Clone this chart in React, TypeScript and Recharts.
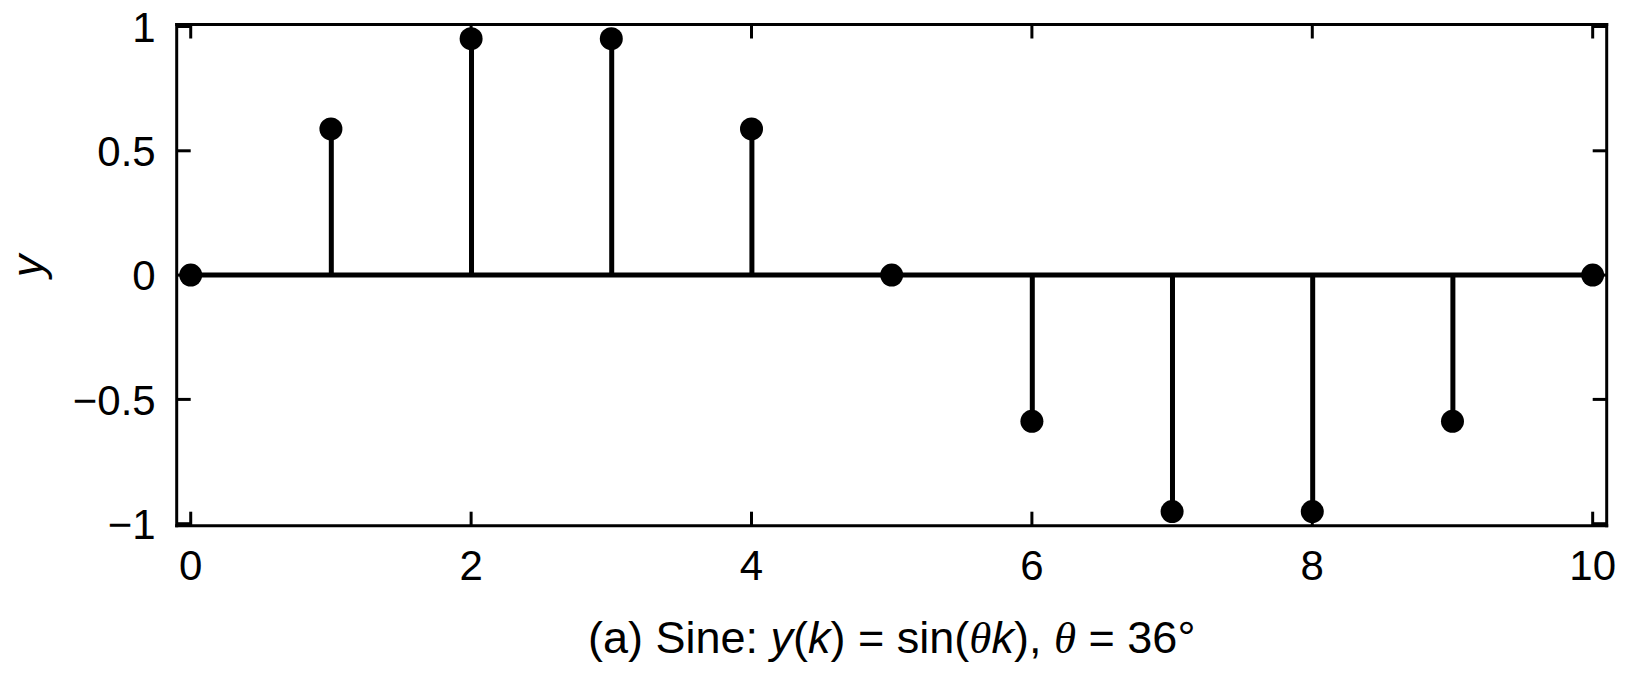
import React from 'react';
import { ComposedChart, XAxis, YAxis, Bar, Scatter, ReferenceLine, Label } from 'recharts';

const kValues = [0, 1, 2, 3, 4, 5, 6, 7, 8, 9, 10];
const yValues = [0, 0.588, 0.951, 0.951, 0.588, 0, -0.588, -0.951, -0.951, -0.588, 0];
const xTicks = [0, 2, 4, 6, 8, 10];
const yTicks = [-1, -0.5, 0, 0.5, 1];

const data = kValues.map((k, i) => ({ k, y: yValues[i] }));

const FONT = '"Liberation Sans", Arial, Helvetica, sans-serif';
const SERIF = '"Liberation Serif", "Times New Roman", serif';
const TICK_LEN = 14;
const fmt = (v: number) => (v < 0 ? '\u2212' + String(Math.abs(v)) : String(v));

const BottomTick = (props: any) => {
  const { x, y, payload } = props;
  return (
    <g>
      <line x1={x} y1={y} x2={x} y2={y - TICK_LEN} stroke="#000" strokeWidth={3} />
      <text x={x} y={y + 54} textAnchor="middle" fontSize={42} fontFamily={FONT} fill="#000">
        {fmt(payload.value)}
      </text>
    </g>
  );
};

const TopTick = (props: any) => {
  const { x, y } = props;
  return <line x1={x} y1={y} x2={x} y2={y + TICK_LEN} stroke="#000" strokeWidth={3} />;
};

const LeftTick = (props: any) => {
  const { x, y, payload } = props;
  return (
    <g>
      <line x1={x} y1={y} x2={x + TICK_LEN} y2={y} stroke="#000" strokeWidth={3} />
      <text x={x - 21} y={y} dy="0.36em" textAnchor="end" fontSize={42} fontFamily={FONT} fill="#000">
        {fmt(payload.value)}
      </text>
    </g>
  );
};

const RightTick = (props: any) => {
  const { x, y } = props;
  return <line x1={x} y1={y} x2={x - TICK_LEN} y2={y} stroke="#000" strokeWidth={3} />;
};

const Title = (props: any) => {
  const vb = props.viewBox || { x: 0, y: 0, width: 0 };
  const cx = vb.x + vb.width / 2;
  const cy = vb.y + 127;
  return (
    <text x={cx} y={cy} textAnchor="middle" fontSize={45} fontFamily={FONT} fill="#000">
      <tspan>(a) Sine: </tspan>
      <tspan fontStyle="italic">y</tspan>
      <tspan>(</tspan>
      <tspan fontStyle="italic">k</tspan>
      <tspan>) = sin(</tspan>
      <tspan fontStyle="italic" fontFamily={SERIF}>θ</tspan>
      <tspan fontStyle="italic">k</tspan>
      <tspan>), </tspan>
      <tspan fontStyle="italic" fontFamily={SERIF}>θ</tspan>
      <tspan> = 36°</tspan>
    </text>
  );
};

const YTitle = (props: any) => {
  const vb = props.viewBox || { x: 0, y: 0, height: 0 };
  const cx = 43;
  const cy = vb.y + vb.height / 2 - 9;
  return (
    <text
      x={cx}
      y={cy}
      transform={`rotate(-90 ${cx} ${cy})`}
      textAnchor="middle"
      fontSize={45}
      fontStyle="italic"
      fontFamily={FONT}
      fill="#000"
    >
      y
    </text>
  );
};

const Dot = (props: any) => {
  const { cx, cy } = props;
  return <circle cx={cx} cy={cy} r={11.5} fill="#000" />;
};

const axisLine = { stroke: '#000', strokeWidth: 3, strokeLinecap: 'square' as const };

export default function App() {
  return (
    <div style={{ position: 'absolute', left: 0, top: 0, width: 1643, height: 689, background: '#fff' }}>
      <ComposedChart
        width={1643}
        height={689}
        data={data}
        margin={{ top: 23.5, right: 35.3, bottom: 0, left: 0 }}
      >
        <XAxis
          xAxisId="b"
          dataKey="k"
          type="number"
          domain={[-0.1, 10.1]}
          ticks={xTicks}
          interval={0}
          orientation="bottom"
          height={163.3}
          tickSize={0}
          tickMargin={0}
          tickLine={false}
          tick={<BottomTick />}
          axisLine={axisLine}
          allowDataOverflow
        >
          <Label content={<Title />} />
        </XAxis>
        <XAxis
          xAxisId="t"
          dataKey="k"
          type="number"
          domain={[-0.1, 10.1]}
          ticks={xTicks}
          interval={0}
          orientation="top"
          height={1}
          tickSize={0}
          tickMargin={0}
          tickLine={false}
          tick={<TopTick />}
          axisLine={axisLine}
          allowDataOverflow
        />
        <YAxis
          yAxisId="l"
          type="number"
          domain={[-1.008, 1.008]}
          ticks={yTicks}
          interval={0}
          orientation="left"
          width={176.7}
          tickSize={0}
          tickMargin={0}
          tickLine={false}
          tick={<LeftTick />}
          axisLine={axisLine}
          allowDataOverflow
        >
          <Label content={<YTitle />} />
        </YAxis>
        <YAxis
          yAxisId="r"
          type="number"
          domain={[-1.008, 1.008]}
          ticks={yTicks}
          interval={0}
          orientation="right"
          width={1}
          tickSize={0}
          tickMargin={0}
          tickLine={false}
          tick={<RightTick />}
          axisLine={axisLine}
          allowDataOverflow
        />
        <ReferenceLine
          xAxisId="b"
          yAxisId="l"
          segment={[{ x: kValues[0], y: 0 }, { x: kValues[kValues.length - 1], y: 0 }]}
          stroke="#000"
          strokeWidth={5}
        />
        <Bar xAxisId="b" yAxisId="l" dataKey="y" barSize={5} fill="#000" isAnimationActive={false} />
        <Scatter xAxisId="t" yAxisId="r" dataKey="y" fill="none" legendType="none" isAnimationActive={false} shape={() => null} />
        <Scatter xAxisId="b" yAxisId="l" dataKey="y" shape={<Dot />} isAnimationActive={false} />
      </ComposedChart>
    </div>
  );
}
